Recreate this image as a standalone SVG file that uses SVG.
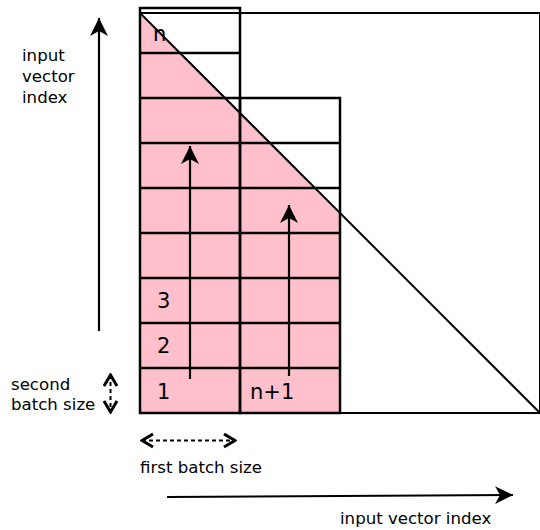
<svg xmlns="http://www.w3.org/2000/svg" width="540" height="530" viewBox="0 0 540 530">
<style>
.lbl{font-family:"DejaVu Sans","Liberation Sans",sans-serif;font-size:16.6px;fill:#000}
.num{font-family:"DejaVu Sans","Liberation Sans",sans-serif;font-size:21px;fill:#000}
.grid{fill:none;stroke:#000;stroke-width:2.5}
.sq{fill:none;stroke:#000;stroke-width:2}
.arr{fill:none;stroke:#000;stroke-width:2.2}
.dash{fill:none;stroke:#000;stroke-width:2;stroke-dasharray:4,3}
</style>
<defs>
<marker id="head" viewBox="0 -10 20 20" refX="18" refY="0" markerWidth="20" markerHeight="20" markerUnits="userSpaceOnUse" orient="auto">
<path d="M18,0 L0,-9 L5,0 L0,9 Z" fill="#000"/>
</marker>
<marker id="chev" viewBox="-14 -8 16 16" refX="0" refY="0" markerWidth="16" markerHeight="16" markerUnits="userSpaceOnUse" orient="auto-start-reverse">
<path d="M-11,-6.5 L0,0 L-11,6.5" fill="none" stroke="#000" stroke-width="3"/>
</marker>
</defs>
<rect width="540" height="530" fill="#fff"/>
<polygon points="140,13 340,213 340,413 140,413" fill="#ffc0cb"/>
<g id="matrix">
<rect class="sq" x="140" y="13" width="400" height="400"/>
<line class="sq" x1="140" y1="13" x2="540" y2="413"/>
</g>
<g id="batch1">
<rect class="grid" x="140" y="8" width="100" height="405"/>
<path class="grid" d="M140,53H240M140,98H240M140,143H240M140,188H240M140,233H240M140,278H240M140,323H240M140,368H240"/>
<text class="num" x="153" y="41">n</text>
<text class="num" x="157" y="308">3</text>
<text class="num" x="157" y="353">2</text>
<text class="num" x="157" y="399">1</text>
</g>
<g id="batch2">
<rect class="grid" x="240" y="98" width="100" height="315"/>
<path class="grid" d="M240,143H340M240,188H340M240,233H340M240,278H340M240,323H340M240,368H340"/>
<text class="num" x="250" y="399">n+1</text>
</g>
<g id="connectors">
<line class="arr" x1="190" y1="379" x2="190" y2="146" marker-end="url(#head)"/>
<line class="arr" x1="289" y1="376" x2="289" y2="205" marker-end="url(#head)"/>
<line class="arr" x1="99" y1="331" x2="99" y2="18" marker-end="url(#head)"/>
<line class="arr" x1="167" y1="497" x2="513" y2="495" marker-end="url(#head)"/>
<line class="dash" x1="110.5" y1="375" x2="110.5" y2="412" marker-start="url(#chev)" marker-end="url(#chev)"/>
<line class="dash" x1="142" y1="440.5" x2="235" y2="440.5" marker-start="url(#chev)" marker-end="url(#chev)"/>
</g>
<g id="labels">
<text class="lbl" x="22" y="61">input</text>
<text class="lbl" x="22" y="82">vector</text>
<text class="lbl" x="22" y="103">index</text>
<text class="lbl" x="11" y="390">second</text>
<text class="lbl" x="11" y="410">batch size</text>
<text class="lbl" x="140" y="473">first batch size</text>
<text class="lbl" x="340" y="524">input vector index</text>
</g>
</svg>
